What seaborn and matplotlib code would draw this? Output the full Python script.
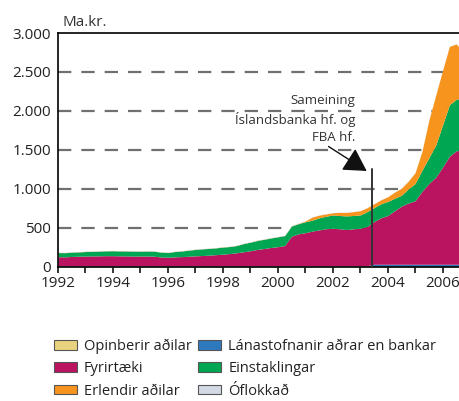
import matplotlib
matplotlib.use('Agg')
import matplotlib.pyplot as plt
import matplotlib.ticker as mticker
from matplotlib.patches import Patch
import numpy as np
import seaborn as sns

# Quarterly points, 1992 - 2006 (Ma.kr.)
years = [1992 + i * 0.25 for i in range(60)]

opinberir = [10, 10, 10, 10, 10, 10, 10, 10, 10, 10, 10, 10, 10, 10, 10, 10,
             10, 10, 10, 10, 10, 10, 10, 10, 10, 10, 10, 10, 10, 10, 10, 10,
             10, 10, 10, 10, 10, 10, 10, 10, 10, 10, 10, 10, 10, 10, 5, 5,
             5, 5, 5, 5, 5, 5, 5, 5, 5, 5, 5, 5]
lanastofnanir = [6, 6, 6, 6, 6, 6, 6, 6, 6, 6, 6, 6, 6, 6, 6, 6,
                 6, 6, 6, 6, 6, 6, 6, 6, 6, 6, 6, 6, 6, 6, 6, 6,
                 6, 6, 6, 6, 6, 6, 6, 6, 6, 6, 6, 6, 6, 6, 30, 30,
                 30, 30, 30, 30, 30, 30, 30, 30, 30, 30, 30, 30]
fyrirtaeki = [116, 114, 119, 122, 124, 126, 127, 129, 129, 127, 126, 124,
              124, 125, 122, 112, 109, 114, 117, 122, 127, 131, 136, 142,
              149, 156, 166, 179, 192, 209, 221, 234, 244, 259, 379, 409,
              424, 444, 459, 474, 480, 474, 464, 474, 480, 504, 545, 595,
              625, 685, 745, 785, 815, 935, 1035, 1115, 1245, 1385, 1455, 1465]
einstaklingar = [53, 53, 55, 55, 58, 58, 60, 62, 63, 63, 63, 63,
                 62, 63, 64, 62, 60, 68, 72, 77, 82, 85, 86, 87,
                 90, 90, 93, 105, 110, 115, 118, 122, 127, 127, 130, 130,
                 140, 140, 155, 160, 171, 170, 175, 170, 171, 190, 180, 180,
                 180, 160, 140, 180, 220, 270, 330, 410, 540, 660, 660, 670]
erlendir = [2, 2, 2, 2, 2, 2, 2, 2, 2, 2, 2, 2,
            2, 2, 2, 2, 2, 2, 2, 2, 2, 2, 2, 2,
            2, 2, 2, 2, 2, 2, 2, 2, 2, 2, 2, 4,
            10, 40, 35, 30, 29, 40, 45, 50, 55, 50, 50, 50,
            60, 80, 90, 100, 140, 240, 480, 640, 700, 750, 710, 590]
oflokkad = [3, 3, 3, 3, 3, 3, 3, 3, 3, 3, 3, 3,
            3, 3, 3, 3, 3, 3, 3, 3, 3, 3, 3, 3,
            3, 3, 3, 3, 3, 3, 3, 3, 3, 3, 3, 3,
            3, 3, 3, 3, 3, 3, 3, 3, 3, 3, 3, 3,
            3, 3, 3, 3, 3, 3, 3, 3, 3, 3, 3, 3]

labels = ['Opinberir aðilar', 'Lánastofnanir aðrar en bankar', 'Fyrirtæki',
          'Einstaklingar', 'Erlendir aðilar', 'Óflokkað']
colors = ['#EAD37F', '#2E78BE', '#BA1460', '#00A651', '#F7941E', '#D3DAE3']

merger_year = 2003.42
merger_top = 1256

sns.set_theme(style='white')
plt.rcParams['font.family'] = ['Open Sans', 'DejaVu Sans']

fig = plt.figure(figsize=(4.59, 4.01), dpi=100)
ax = fig.add_axes([0.1264, 0.3342, 0.8736, 0.5835])

ax.stackplot(years, opinberir, lanastofnanir, fyrirtaeki, einstaklingar,
             erlendir, oflokkad, colors=colors, linewidth=0, zorder=2)

# dashed grid
for v in [500, 1000, 1500, 2000, 2500]:
    ax.axhline(v, color='#707070', lw=1.6, dashes=(6, 4.5), zorder=1)

ax.set_xlim(1992, 2006.6)
ax.set_ylim(0, 3000)

for side in ['left', 'top', 'bottom']:
    ax.spines[side].set_color('black')
    ax.spines[side].set_linewidth(1.2)
ax.spines['right'].set_visible(False)

ax.xaxis.set_major_locator(mticker.MultipleLocator(2))
ax.xaxis.set_minor_locator(mticker.MultipleLocator(1))
ax.xaxis.set_major_formatter(mticker.FormatStrFormatter('%d'))
ax.tick_params(axis='x', which='both', direction='out', length=4.5, width=1.1,
               color='black', bottom=True, labelsize=11, pad=2,
               labelcolor='#222222')
ax.set_yticks([0, 500, 1000, 1500, 2000, 2500, 3000])
ax.yaxis.set_major_formatter(
    mticker.FuncFormatter(lambda v, p: f'{int(v):,}'.replace(',', '.')))
ax.tick_params(axis='y', length=0, labelsize=11, pad=5, labelcolor='#222222')

ax.text(0.01, 1.012, 'Ma.kr.', transform=ax.transAxes, fontsize=11,
        color='#333333', ha='left', va='bottom')

# merger marker
ax.plot([merger_year, merger_year], [0, merger_top], color='#333333',
        lw=1.4, zorder=4)
ax.annotate('', xy=(2003.24, 1231), xytext=(2001.85, 1545),
            arrowprops=dict(arrowstyle='-|>,head_length=0.7,head_width=0.4',
                            mutation_scale=20, color='#111111', lw=1,
                            shrinkA=0, shrinkB=0), zorder=5)
ax.text(2002.83, 1897, 'Sameining\nÍslandsbanka hf. og\nFBA hf.',
        ha='right', va='center', fontsize=9.5, color='#333333',
        linespacing=1.45)

order = [0, 2, 4, 1, 3, 5]
handles = [Patch(facecolor=colors[i], edgecolor='#555555', linewidth=0.8)
           for i in order]
fig.legend(handles, [labels[i] for i in order], ncol=2,
           loc='upper left', bbox_to_anchor=(0.118, 0.155), frameon=False,
           fontsize=10.5, handlelength=1.55, handleheight=0.65,
           handletextpad=0.5, columnspacing=0.45, labelspacing=0.5,
           borderaxespad=0, borderpad=0, labelcolor='#222222')

fig.savefig('out.png', dpi=100)
